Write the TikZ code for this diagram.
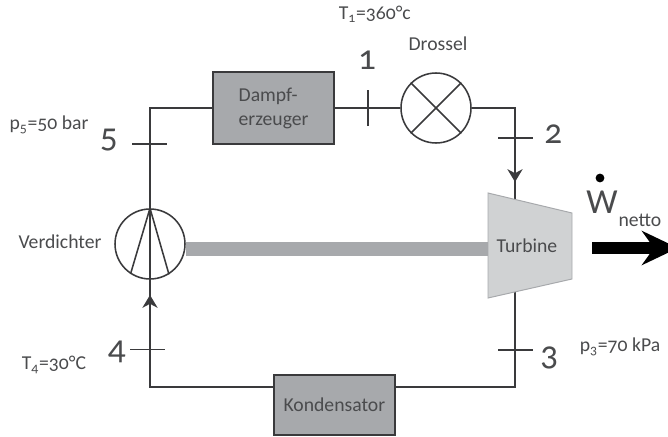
\documentclass[tikz,border=0pt]{standalone}
\usepackage{fontspec}
\setmainfont[Numbers=OldStyle]{Carlito}
\usetikzlibrary{arrows.meta}
\definecolor{textgray}{HTML}{4A4B4D}
\definecolor{linegray}{HTML}{3A3A3C}
\definecolor{boxgray}{HTML}{A7A9AC}
\definecolor{turbinegray}{HTML}{D0D2D3}
\tikzset{
  pipe/.style={draw=linegray, line width=1.1pt},
  device/.style={draw=linegray, line width=1.2pt, fill=boxgray, text=textgray, inner sep=0pt, font=\fontsize{14}{17}\selectfont},
  wheel/.style={circle, draw=linegray, line width=1.1pt, minimum size=1.75cm, inner sep=0pt},
  statenum/.style={text=textgray, inner sep=0pt, font=\fontsize{25}{25}\selectfont},
  note/.style={text=textgray, inner sep=0pt, font=\fontsize{14}{16}\selectfont}
}
\begin{document}
\begin{tikzpicture}
  \useasboundingbox (0,0) rectangle (16.7,10.9);

  % shaft, drawn first so the wheels sit on top
  \node[wheel, fill=white] (verdichter) at (3.75,4.8) {};  % compressor
  \coordinate (shaftend) at (13.0,4.675);  % under the turbine fill
  \draw[draw=boxgray, line width=9.5pt] (verdichter.east |- shaftend) -- (shaftend);  % shaft

  % devices on the loop
  \node[device, minimum width=3.03cm, minimum height=1.8cm, align=left] (dampf) at (6.84,8.2) {Dampf-\\erzeuger};  % steam generator
  \node[device, minimum width=3.02cm, minimum height=1.5cm] (kondensator) at (8.36,0.775) {Kondensator};  % condenser
  \node[wheel] (drossel) at (10.9,8.2) {};  % throttle
  \draw[pipe] (drossel.45) -- (drossel.225);  % throttle cross
  \draw[pipe] (drossel.135) -- (drossel.315);  % throttle cross
  \draw[pipe] (verdichter.north) -- (verdichter.237);  % compressor blade
  \draw[pipe] (verdichter.north) -- (verdichter.302);  % compressor blade

  % loop corners
  \coordinate (topleft) at (3.75,8.2);
  \coordinate (topright) at (12.875,8.2);
  \coordinate (bottomleft) at (3.75,1.225);
  \coordinate (bottomright) at (12.875,1.225);
  \coordinate (turbinein) at (12.875,5.7);  % under the turbine fill
  \coordinate (turbineout) at (12.875,3.8);  % under the turbine fill
  \coordinate (tipin) at (12.875,6.35);  % arrow tip before the turbine
  \coordinate (tipup) at (3.75,3.525);  % arrow tip under the compressor
  \coordinate (tickin) at (12.875,7.45);  % on tick 2
  \coordinate (tickup) at (3.75,2.16);  % on tick 4

  % pipes
  \draw[pipe] (drossel.east) -- (topright) -- (turbinein);
  \draw[pipe] (dampf.east) -- (drossel.west);
  \draw[pipe] (verdichter.north) -- (topleft) -- (dampf.west);
  \draw[pipe] (verdichter.south) -- (bottomleft) -- (kondensator.west |- bottomleft);
  \draw[pipe] (kondensator.east |- bottomright) -- (bottomright) -- (turbineout);
  \draw[pipe] (verdichter.north) -- (verdichter.south);  % through the compressor
  \draw[pipe, ->, -{Stealth[length=0.32cm, width=0.38cm, inset=0.1cm]}] (tickin) -- (tipin);  % flow arrow
  \draw[pipe, ->, -{Stealth[length=0.32cm, width=0.38cm, inset=0.1cm]}] (tickup) -- (tipup);  % flow arrow

  % turbine body
  \coordinate (t1) at (12.2,6.075);
  \coordinate (t2) at (14.3,5.575);
  \coordinate (t3) at (14.3,3.925);
  \coordinate (t4) at (12.2,3.45);
  \draw[draw=boxgray, line width=0.7pt, fill=turbinegray] (t1) -- (t2) -- (t3) -- (t4) -- cycle;
  \node[note] (turbine) at (13.175,4.75) {Turbine};  % turbine label

  % state ticks
  \coordinate (tick1a) at (9.2,7.75);
  \coordinate (tick1b) at (9.2,8.65);
  \coordinate (tick2a) at (12.45,7.45);
  \coordinate (tick2b) at (13.325,7.45);
  \coordinate (tick3a) at (12.45,2.15);
  \coordinate (tick3b) at (13.325,2.15);
  \coordinate (tick4a) at (3.25,2.16);
  \coordinate (tick4b) at (4.125,2.16);
  \coordinate (tick5a) at (3.3,7.3);
  \coordinate (tick5b) at (4.175,7.3);
  \draw[pipe] (tick1a) -- (tick1b);
  \draw[pipe] (tick2a) -- (tick2b);
  \draw[pipe] (tick3a) -- (tick3b);
  \draw[pipe] (tick4a) -- (tick4b);
  \draw[pipe] (tick5a) -- (tick5b);

  % state numbers
  \node[statenum] (num1) at (9.175,9.4) {1};
  \node[statenum] (num2) at (13.83,7.55) {2};
  \node[statenum] (num3) at (13.73,1.95) {3};
  \node[statenum] (num4) at (2.92,2.1) {4};
  \node[statenum] (num5) at (2.72,7.4) {5};

  % state values
  \node[note] (t1label) at (9.37,10.55) {T\textsubscript{1}=360°c};
  \node[note] (drossellabel) at (10.95,9.8) {Drossel};
  \node[note] (p5label) at (1.225,7.775) {p\textsubscript{5}=50 bar};
  \node[note] (verdichterlabel) at (1.5,4.85) {Verdichter};
  \node[note] (t4label) at (1.35,1.78) {T\textsubscript{4}=30°C};
  \node[note] (p3label) at (15.5,2.23) {p\textsubscript{3}=70 kPa};

  % net work
  \coordinate (workstart) at (14.8,4.7);
  \coordinate (workend) at (16.95,4.7);
  \draw[line width=8pt, -{Stealth[length=0.9cm, width=0.85cm, inset=0.3cm]}] (workstart) -- (workend);
  \node[statenum] (wlabel) at (15.05,5.85) {W};
  \fill[black] (15,6.45) circle (0.11);  % dot over W
  \node[note] (nettolabel) at (16,5.4) {netto};
\end{tikzpicture}
\end{document}
